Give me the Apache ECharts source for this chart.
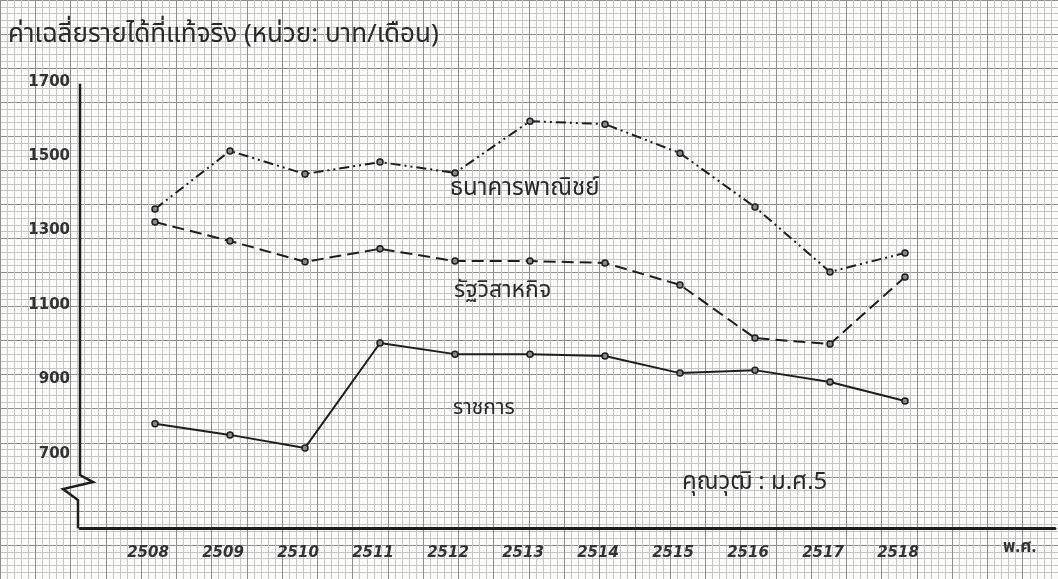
<!DOCTYPE html>
<html>
<head>
<meta charset="utf-8">
<script src="https://cdn.jsdelivr.net/npm/echarts@6/dist/echarts.min.js"></script>
<style>
  html, body { margin: 0; padding: 0; background: #fbfbfa; }
  #chart { width: 1058px; height: 579px; }
</style>
</head>
<body>
<div id="chart"></div>
<script>
// ปี พ.ศ.
var years = [2508, 2509, 2510, 2511, 2512, 2513, 2514, 2515, 2516, 2517, 2518];
// ค่าเฉลี่ยรายได้ที่แท้จริง (บาท/เดือน) อ่านจากกราฟ
var commercialBank = [1358, 1514, 1452, 1484, 1455, 1594, 1586, 1508, 1363, 1189, 1240];
var stateEnterprise = [1323, 1272, 1216, 1251, 1218, 1218, 1213, 1154, 1011, 995, 1175];
var civilService = [781, 751, 716, 998, 968, 968, 963, 917, 925, 893, 842];
var yTickLabels = [700, 900, 1100, 1300, 1500, 1700];

var ink = '#1e1e1e';
var thaiFont = '"Noto Sans Thai", "Noto Sans", "DejaVu Sans", sans-serif';

function pairs(vals) {
    return years.map(function (y, i) { return [y, vals[i]]; });
}

var myChart = echarts.init(document.getElementById('chart'));

var seriesStyle = function (name, vals, lineType) {
    return {
        name: name,
        type: 'line',
        xAxisIndex: 1,
        yAxisIndex: 1,
        data: pairs(vals),
        symbol: 'circle',
        symbolSize: 6,
        lineStyle: { color: ink, width: 2, type: lineType },
        itemStyle: { color: '#8a8a8a', borderColor: ink, borderWidth: 1.5 },
        animation: false,
        z: 5
    };
};

myChart.setOption({
    backgroundColor: '#fbfbfa',
    grid: [
        // กระดาษกราฟ
        { left: -33.7, top: -30, width: 1137, height: 632.8 },
        // พื้นที่กราฟหลัก
        { left: 80, top: 81.7, width: 985.4, height: 446.6 }
    ],
    xAxis: [
        {
            type: 'value', gridIndex: 0, min: 2505.5, max: 2520.5, interval: 0.5,
            axisLine: { show: false }, axisTick: { show: false }, axisLabel: { show: false },
            splitLine: { show: true, lineStyle: { color: '#8e8e8e', width: 1 } },
            minorTick: { show: false, splitNumber: 5 },
            minorSplitLine: { show: true, lineStyle: { color: '#c6c6c6', width: 1 } }
        },
        {
            type: 'value', gridIndex: 1, min: 2507, max: 2520, interval: 1,
            axisLine: { show: true, lineStyle: { color: ink, width: 3 } },
            axisTick: { show: false },
            splitLine: { show: false },
            axisLabel: {
                color: '#333', fontSize: 15, fontWeight: 'bold', fontStyle: 'italic',
                fontFamily: '"DejaVu Sans", sans-serif', margin: 17, padding: [0, 14, 0, 0],
                formatter: function (v) { return years.indexOf(v) >= 0 ? String(v) : ''; }
            }
        }
    ],
    yAxis: [
        {
            type: 'value', gridIndex: 0, min: 300, max: 2000, interval: 100,
            axisLine: { show: false }, axisTick: { show: false }, axisLabel: { show: false },
            splitLine: { show: true, lineStyle: { color: '#8e8e8e', width: 1 } },
            minorTick: { show: false, splitNumber: 5 },
            minorSplitLine: { show: true, lineStyle: { color: '#c6c6c6', width: 1 } }
        },
        {
            type: 'value', gridIndex: 1, min: 500, max: 1700, interval: 200,
            axisLine: { show: false },
            axisTick: { show: false },
            splitLine: { show: false },
            axisLabel: {
                color: '#333', fontSize: 15, fontWeight: 'bold',
                fontFamily: '"DejaVu Sans", sans-serif', margin: 10,
                formatter: function (v) { return yTickLabels.indexOf(v) >= 0 ? String(v) : ''; }
            }
        }
    ],
    series: [
        seriesStyle('ธนาคารพาณิชย์', commercialBank, [10, 4, 2, 4, 2, 4]),
        seriesStyle('รัฐวิสาหกิจ', stateEnterprise, [12, 6]),
        seriesStyle('ราชการ', civilService, 'solid')
    ]
});

// เส้นแกนตั้งพร้อมรอยหัก
var axTop = myChart.convertToPixel({ gridIndex: 1 }, [2507, 1700]);
var axBottom = myChart.convertToPixel({ gridIndex: 1 }, [2507, 500]);
var breakY = myChart.convertToPixel({ gridIndex: 1 }, [2507, 643])[1];
var ax = axTop[0];

myChart.setOption({
    graphic: [
        {
            type: 'polyline', z: 10,
            shape: { points: [
                [ax, axTop[1] + 2], [ax, breakY], [ax + 13, breakY + 7],
                [ax - 17, breakY + 14], [ax - 2, breakY + 25], [ax - 2, axBottom[1]]
            ] },
            style: { stroke: ink, lineWidth: 2.5, fill: null }
        },
        {
            type: 'text', left: 8, top: 24, z: 10,
            style: { text: 'ค่าเฉลี่ยรายได้ที่แท้จริง (หน่วย: บาท/เดือน)', fill: '#2a2a2a',
                font: '26px ' + thaiFont }
        },
        {
            type: 'text', left: 450, top: 178, z: 10,
            style: { text: 'ธนาคารพาณิชย์', fill: '#2a2a2a', font: '24px ' + thaiFont }
        },
        {
            type: 'text', left: 454, top: 281, z: 10,
            style: { text: 'รัฐวิสาหกิจ', fill: '#2a2a2a', font: '23px ' + thaiFont }
        },
        {
            type: 'text', left: 453, top: 399, z: 10,
            style: { text: 'ราชการ', fill: '#2a2a2a', font: '21px ' + thaiFont }
        },
        {
            type: 'text', left: 682, top: 472, z: 10,
            style: { text: 'คุณวุฒิ : ม.ศ.5', fill: '#2a2a2a', font: '24px ' + thaiFont }
        },
        {
            type: 'text', left: 1003, top: 540, z: 10,
            style: { text: 'พ.ศ.', fill: '#333', font: 'bold 17px ' + thaiFont }
        }
    ]
});
</script>
</body>
</html>
